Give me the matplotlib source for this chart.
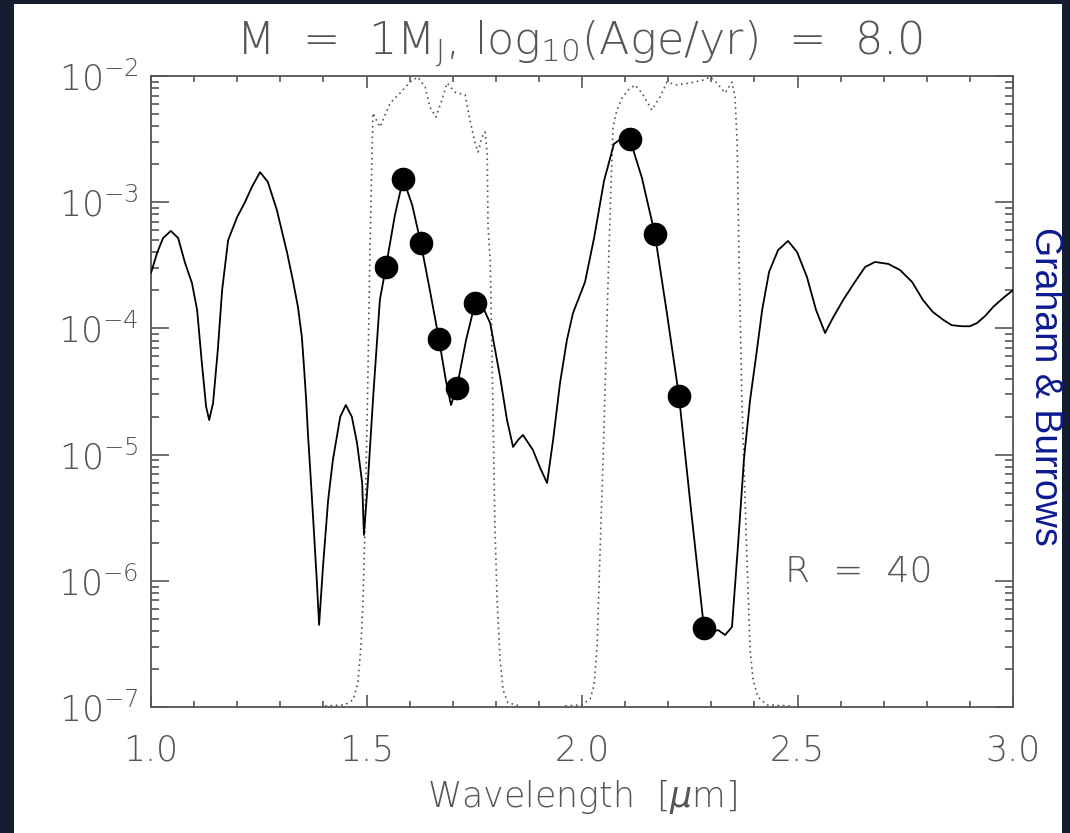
import matplotlib
matplotlib.use("Agg")
import matplotlib.pyplot as plt
from matplotlib.patches import Rectangle
from matplotlib.ticker import LogLocator, MultipleLocator, NullFormatter

# model spectrum (solid line)
wave = [
    1.000, 1.014, 1.028, 1.046, 1.063, 1.079, 1.095, 1.107, 1.118, 1.128,
    1.135, 1.144, 1.155, 1.165, 1.179, 1.200, 1.218, 1.234, 1.253, 1.271,
    1.292, 1.316, 1.329, 1.341, 1.350, 1.355, 1.360, 1.364, 1.369, 1.376,
    1.385, 1.390, 1.399, 1.411, 1.422, 1.439, 1.452, 1.466, 1.478, 1.490,
    1.494, 1.503, 1.515, 1.531, 1.545, 1.566, 1.585, 1.606, 1.626, 1.647,
    1.668, 1.684, 1.696, 1.710, 1.731, 1.752, 1.768, 1.787, 1.810, 1.826,
    1.840, 1.852, 1.863, 1.886, 1.903, 1.919, 1.933, 1.949, 1.965, 1.979,
    2.007, 2.028, 2.051, 2.074, 2.093, 2.111, 2.139, 2.169, 2.197, 2.225,
    2.253, 2.283, 2.302, 2.316, 2.332, 2.348, 2.362, 2.376, 2.390, 2.404,
    2.418, 2.434, 2.455, 2.478, 2.499, 2.522, 2.543, 2.564, 2.582, 2.606,
    2.633, 2.657, 2.680, 2.711, 2.738, 2.766, 2.791, 2.814, 2.838, 2.858,
    2.882, 2.900, 2.916, 2.935, 2.954, 2.977, 3.000,
]
flux = [
    2.75e-4, 3.95e-4, 5.20e-4, 5.92e-4, 5.20e-4, 3.30e-4, 2.29e-4, 1.40e-4, 5.32e-5, 2.38e-5,
    1.88e-5, 2.56e-5, 6.75e-5, 2.01e-4, 5.01e-4, 7.64e-4, 1.00e-3, 1.32e-3, 1.73e-3, 1.45e-3,
    8.67e-4, 3.95e-4, 2.42e-4, 1.48e-4, 8.55e-5, 4.94e-5, 2.71e-5, 1.48e-5, 7.98e-6, 3.21e-6,
    9.61e-7, 4.47e-7, 1.29e-6, 4.37e-6, 9.06e-6, 1.99e-5, 2.47e-5, 1.99e-5, 1.24e-5, 5.96e-6,
    2.31e-6, 5.96e-6, 2.71e-5, 1.68e-4, 3.07e-4, 7.93e-4, 1.53e-3, 9.51e-4, 4.75e-4, 2.01e-4,
    8.24e-5, 3.90e-5, 2.47e-5, 3.44e-5, 8.09e-5, 1.59e-4, 1.53e-4, 1.10e-4, 4.12e-5, 1.88e-5,
    1.15e-5, 1.31e-5, 1.43e-5, 1.09e-5, 7.83e-6, 5.96e-6, 1.31e-5, 3.69e-5, 8.09e-5, 1.32e-4,
    2.33e-4, 5.20e-4, 1.47e-3, 2.89e-3, 3.23e-3, 3.17e-3, 1.56e-3, 5.60e-4, 1.32e-4, 2.91e-5,
    3.64e-6, 4.23e-7, 3.93e-7, 4.07e-7, 3.72e-7, 4.31e-7, 1.92e-6, 9.40e-6, 2.71e-5, 6.04e-5,
    1.40e-4, 2.80e-4, 4.18e-4, 4.93e-4, 4.03e-4, 2.55e-4, 1.40e-4, 9.20e-5, 1.21e-4, 1.68e-4,
    2.33e-4, 3.07e-4, 3.36e-4, 3.24e-4, 2.90e-4, 2.33e-4, 1.68e-4, 1.35e-4, 1.17e-4, 1.06e-4,
    1.04e-4, 1.04e-4, 1.10e-4, 1.25e-4, 1.48e-4, 1.74e-4, 2.01e-4,
]

# R = 40 binned points
bin_wave = [1.545, 1.585, 1.626, 1.668, 1.710, 1.752, 2.111, 2.169, 2.225, 2.283]
bin_flux = [3.07e-4, 1.53e-3, 4.75e-4, 8.2e-5, 3.4e-5, 1.59e-4, 3.17e-3, 5.6e-4, 2.9e-5, 4.2e-7]

# H band filter (dotted)
h_wave = [
    1.404, 1.450, 1.469, 1.480, 1.487, 1.492, 1.497, 1.503, 1.508, 1.513,
    1.515, 1.531, 1.555, 1.578, 1.601, 1.619, 1.636, 1.647, 1.661, 1.675,
    1.687, 1.705, 1.729, 1.740, 1.752, 1.759, 1.768, 1.775, 1.780, 1.782,
    1.787, 1.791, 1.798, 1.803, 1.810, 1.817, 1.828, 1.856,
]
h_trans = [
    1.02e-7, 1.04e-7, 1.14e-7, 1.55e-7, 2.99e-7, 7.05e-7, 3.21e-6, 3.69e-5, 4.18e-4, 2.59e-3,
    5.09e-3, 3.94e-3, 6.11e-3, 7.33e-3, 8.95e-3, 9.82e-3, 8.18e-3, 5.68e-3, 4.73e-3, 6.46e-3,
    8.81e-3, 7.46e-3, 7.06e-3, 4.48e-3, 2.94e-3, 2.50e-3, 3.29e-3, 3.60e-3, 2.45e-3, 6.35e-4,
    3.48e-4, 6.75e-5, 2.67e-6, 7.05e-7, 2.36e-7, 1.36e-7, 1.08e-7, 1.02e-7,
]

# K band filter (dotted)
k_wave = [
    1.961, 2.000, 2.019, 2.028, 2.035, 2.042, 2.049, 2.060, 2.067, 2.072,
    2.081, 2.093, 2.107, 2.123, 2.139, 2.162, 2.181, 2.197, 2.220, 2.251,
    2.281, 2.297, 2.313, 2.332, 2.348, 2.355, 2.360, 2.364, 2.371, 2.382,
    2.390, 2.397, 2.408, 2.429, 2.483,
]
k_trans = [
    1.02e-7, 1.04e-7, 1.16e-7, 1.49e-7, 2.99e-7, 1.75e-6, 9.40e-6, 2.05e-4, 1.25e-3, 3.94e-3,
    5.38e-3, 6.70e-3, 7.74e-3, 8.49e-3, 7.33e-3, 5.38e-3, 6.82e-3, 8.95e-3, 8.49e-3, 8.81e-3,
    9.29e-3, 9.82e-3, 8.81e-3, 7.33e-3, 8.95e-3, 6.82e-3, 2.94e-3, 4.18e-4, 2.71e-5, 1.75e-6,
    2.83e-7, 1.64e-7, 1.20e-7, 1.04e-7, 1.02e-7,
]

W, H = 1070, 833
gray = "#555555"
plt.rcParams["font.family"] = ["DejaVu Sans"]
plt.rcParams["font.weight"] = "light"
plt.rcParams["mathtext.default"] = "regular"

fig = plt.figure(figsize=(W / 100, H / 100), dpi=100, facecolor="#141c2f")
fig.patches.append(Rectangle((14 / W, 0), (1062 - 14) / W, 1 - 4 / H,
                             transform=fig.transFigure, facecolor="white",
                             edgecolor="none", zorder=-5))

ax = fig.add_axes([151 / W, (H - 707) / H, 862 / W, 631 / H])
ax.set_facecolor("white")

ax.plot(h_wave, h_trans, color="#555555", lw=1.2, linestyle=(0, (1, 2.2)), zorder=2)
ax.plot(k_wave, k_trans, color="#555555", lw=1.2, linestyle=(0, (1, 2.2)), zorder=2)
ax.plot(wave, flux, color="black", lw=1.3, solid_joinstyle="round", zorder=3)
ax.plot(bin_wave, bin_flux, "o", color="black", markersize=16, zorder=4)

ax.set_yscale("log")
ax.set_xlim(1.0, 3.0)
ax.set_ylim(1e-7, 1e-2)

ax.xaxis.set_major_locator(MultipleLocator(0.5))
ax.xaxis.set_minor_locator(MultipleLocator(0.1))
ax.xaxis.set_major_formatter(plt.FuncFormatter(lambda v, p: f"{v:.1f}"))
ax.yaxis.set_major_locator(LogLocator(base=10, numticks=10))
ax.yaxis.set_minor_locator(LogLocator(base=10, subs=range(2, 10), numticks=20))
ax.yaxis.set_minor_formatter(NullFormatter())

for s in ax.spines.values():
    s.set_color(gray)
    s.set_linewidth(1.3)

ax.tick_params(axis="both", which="both", direction="in", top=True, right=True,
               color=gray, width=1.2, labelcolor=gray, labelsize=25)
ax.tick_params(axis="x", which="major", length=8.6, pad=19)
ax.tick_params(axis="x", which="minor", length=4.3)
ax.tick_params(axis="y", which="major", length=13, pad=9)
ax.tick_params(axis="y", which="minor", length=6)

fig.text(580 / W, 1 - 55 / H,
         "M  =  1M$_{J}$, log$_{10}$(Age/yr)  =  8.0",
         ha="center", va="baseline", fontsize=32, color=gray)
fig.text(582 / W, 1 - 807 / H, "Wavelength  [$\\mathit{\\mu}$m]",
         ha="center", va="baseline", fontsize=25, color=gray)
fig.text(785 / W, 1 - 582 / H, "R  =  40",
         ha="left", va="baseline", fontsize=26, color=gray)
fig.text(1045 / W, 1 - 386 / H, "Graham & Burrows", rotation=270,
         ha="center", va="center", fontsize=27, color="#0c1a8f",
         family=["Liberation Sans", "DejaVu Sans"], weight="normal")

fig.savefig("out.png", dpi=100, facecolor=fig.get_facecolor())
